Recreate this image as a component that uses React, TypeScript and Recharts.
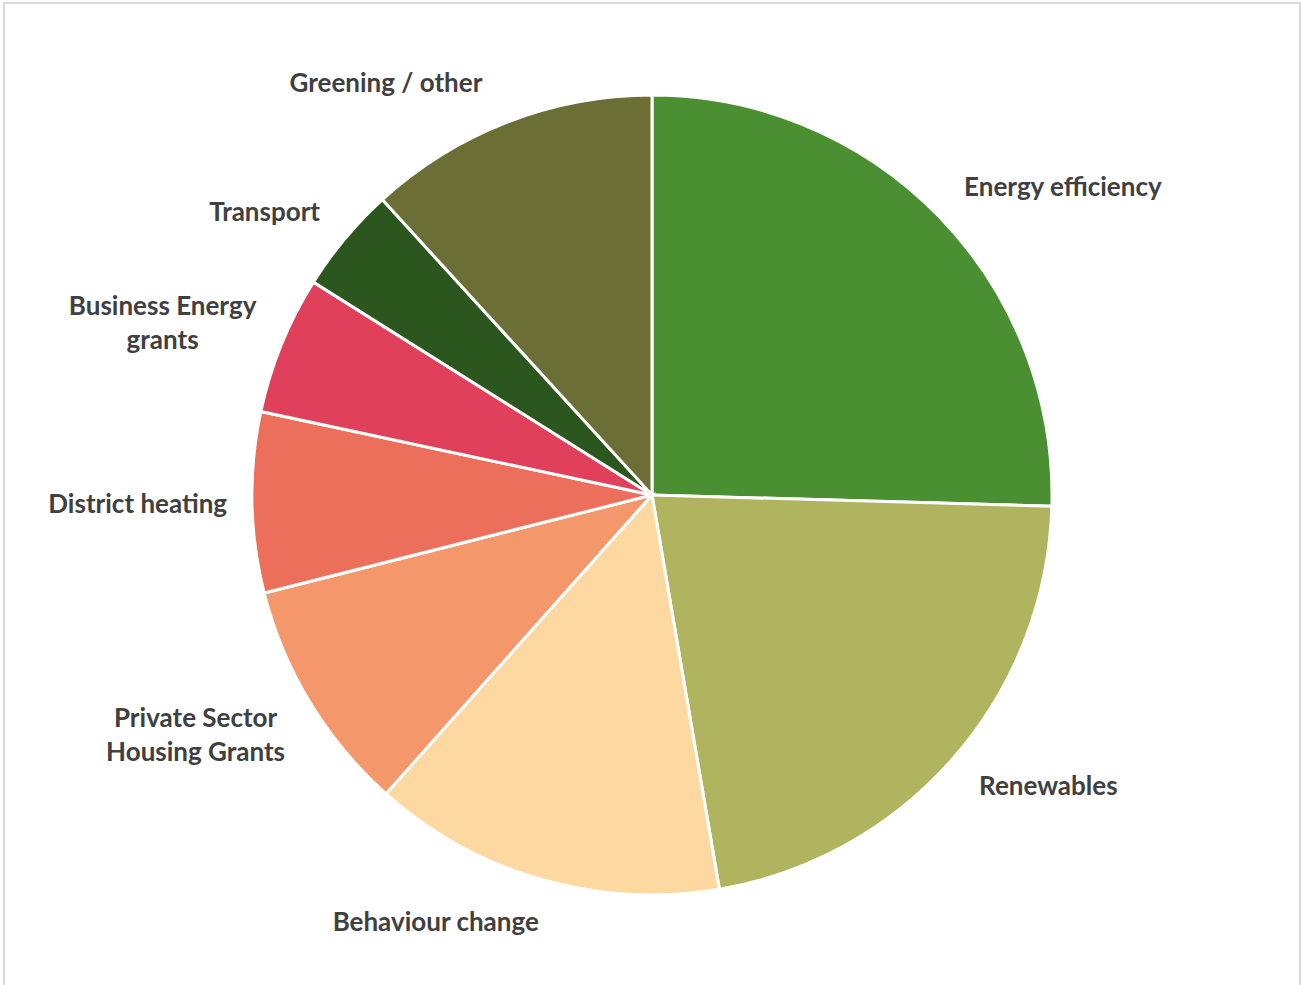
import { Cell, Pie, PieChart } from "recharts";

const categories = [
  "Energy efficiency",
  "Renewables",
  "Behaviour change",
  "Private Sector\nHousing Grants",
  "District heating",
  "Business Energy\ngrants",
  "Transport",
  "Greening / other"
];
const shares = [25.5, 21.9, 14.3, 9.5, 7.3, 5.6, 4.3, 11.8];
const colours = [
  "#4A8F31",
  "#B0B45E",
  "#FDD9A1",
  "#F4976B",
  "#EB6F5B",
  "#E04059",
  "#2B571E",
  "#6B6E35"
];

const data = categories.map((name, i) => ({ name, value: shares[i] }));

const FONT_SIZE = 26;
const FONT_FAMILY = "Lato, 'Open Sans', sans-serif";
const LINE_H = 34;
const RAD = Math.PI / 180;

let ctx: CanvasRenderingContext2D | null = null;
const textWidth = (s: string) => {
  if (!ctx) ctx = document.createElement("canvas").getContext("2d");
  if (!ctx) return s.length * 12;
  ctx.font = `700 ${FONT_SIZE}px Lato`;
  return ctx.measureText(s).width;
};

const clamp = (v: number) => Math.max(-1, Math.min(1, v));

// outside-end labels, pushed off the rim roughly like Excel does it
const renderLabel = ({ cx, cy, midAngle, outerRadius, name }: any) => {
  const lines = String(name).split("\n");
  const cos = Math.cos(midAngle * RAD);
  const sin = Math.sin(midAngle * RAD);
  const w = Math.max(...lines.map(textWidth));
  const h = 26 + LINE_H * (lines.length - 1);
  const x = cx + outerRadius * cos + clamp(3 * cos) * (w / 2 + 25);
  const y = cy - outerRadius * sin - sin * (h / 2 + 30);
  const top = y - ((lines.length - 1) * LINE_H) / 2;
  return (
    <text
      x={x}
      y={top}
      textAnchor="middle"
      dominantBaseline="central"
      fill="#404040"
      fontFamily={FONT_FAMILY}
      fontWeight={700}
      fontSize={FONT_SIZE}
    >
      {lines.map((l, i) => (
        <tspan key={i} x={x} y={top + i * LINE_H}>
          {l}
        </tspan>
      ))}
    </text>
  );
};

export default function App() {
  return (
    <div
      style={{
        position: "absolute",
        left: 0,
        top: 0,
        width: 1301,
        height: 985,
        overflow: "hidden",
        background: "#fff"
      }}
    >
      <div
        style={{
          position: "absolute",
          left: 3,
          top: 2,
          width: 1294,
          height: 1000,
          border: "2px solid #D9D9D9"
        }}
      />
      <PieChart
        width={1301}
        height={985}
        margin={{ top: 0, right: 0, bottom: 0, left: 0 }}
        style={{ position: "absolute", left: 0, top: 0 }}
      >
        <Pie
          data={data}
          dataKey="value"
          nameKey="name"
          cx={652}
          cy={495}
          outerRadius={400}
          startAngle={90}
          endAngle={-270}
          stroke="#fff"
          strokeWidth={3}
          label={renderLabel}
          labelLine={false}
          isAnimationActive={false}
        >
          {data.map((d, i) => (
            <Cell key={d.name} fill={colours[i]} />
          ))}
        </Pie>
      </PieChart>
    </div>
  );
}
